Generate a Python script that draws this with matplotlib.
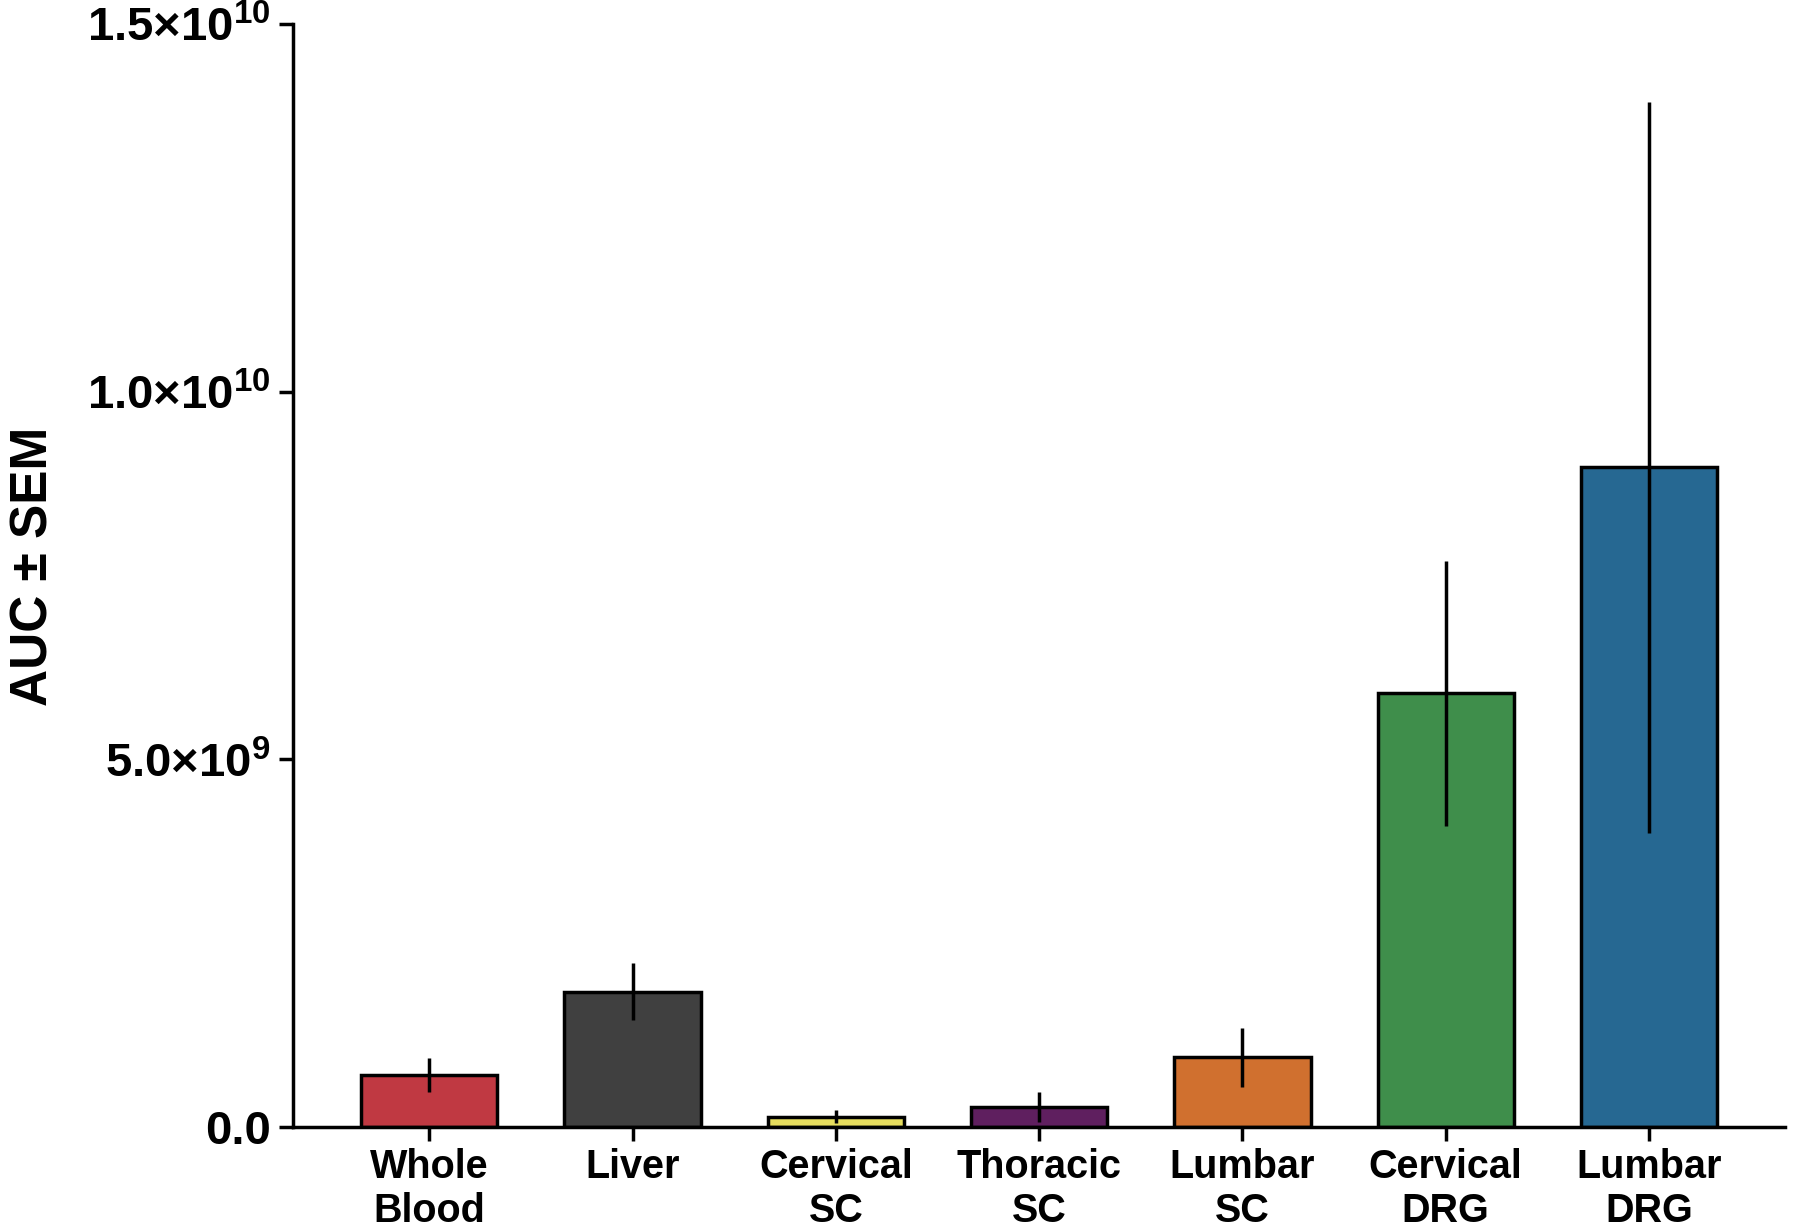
import matplotlib
matplotlib.use('Agg')
import matplotlib.pyplot as plt
from matplotlib.ticker import FuncFormatter

plt.rcParams['font.family'] = ['Liberation Sans', 'DejaVu Sans']
plt.rcParams['font.weight'] = 'bold'
plt.rcParams['mathtext.fontset'] = 'custom'
plt.rcParams['mathtext.rm'] = 'Liberation Sans:bold'
plt.rcParams['mathtext.bf'] = 'Liberation Sans:bold'
plt.rcParams['mathtext.it'] = 'Liberation Sans:bold'

tissues = ['Whole\nBlood', 'Liver', 'Cervical\nSC', 'Thoracic\nSC', 'Lumbar\nSC', 'Cervical\nDRG', 'Lumbar\nDRG']
auc = [0.71e9, 1.84e9, 0.14e9, 0.27e9, 0.95e9, 5.90e9, 8.97e9]
sem = [0.23e9, 0.39e9, 0.09e9, 0.20e9, 0.40e9, 1.80e9, 4.97e9]
colors = ['#C03942', '#404040', '#E6DD5E', '#5F1F5F', '#D0702F', '#3F8E4B', '#266892']
yticks = [0, 5e9, 1e10, 1.5e10]

fig = plt.figure(figsize=(18, 12.3), dpi=100)
ax = fig.add_axes([0.1628, 0.0837, 0.829, 0.8968])

x = list(range(len(tissues)))
ax.bar(x, auc, width=0.67, color=colors, edgecolor='black', linewidth=2.5)
ax.errorbar(x, auc, yerr=sem, fmt='none', ecolor='black', elinewidth=2.5, capsize=0)

ax.set_xlim(-0.67, 6.67)
ax.set_ylim(0, 1.5e10)
ax.set_xticks(x)
ax.set_xticklabels(tissues, fontsize=28.5, fontweight='bold', linespacing=1.2)
ax.set_yticks(yticks)


def sci(v, pos):
    if v == 0:
        return '0.0'
    exp = 0
    m = v
    while m >= 10:
        m /= 10
        exp += 1
    return r'$%.1f{\times}10^{%d}$' % (m, exp)


ax.yaxis.set_major_formatter(FuncFormatter(sci))
for lab in ax.get_yticklabels():
    lab.set_fontsize(34)
    lab.set_fontweight('bold')

ax.set_ylabel('AUC ± SEM', fontsize=37, fontweight='bold')
ax.yaxis.set_label_coords(-0.157, 0.508)

ax.spines['top'].set_visible(False)
ax.spines['right'].set_visible(False)
ax.spines['left'].set_linewidth(2.5)
ax.spines['bottom'].set_linewidth(2.5)
ax.tick_params(axis='both', width=2.5, length=10, direction='out')
ax.tick_params(axis='x', pad=5)
ax.tick_params(axis='y', pad=6)

fig.savefig('out.png', dpi=100)
